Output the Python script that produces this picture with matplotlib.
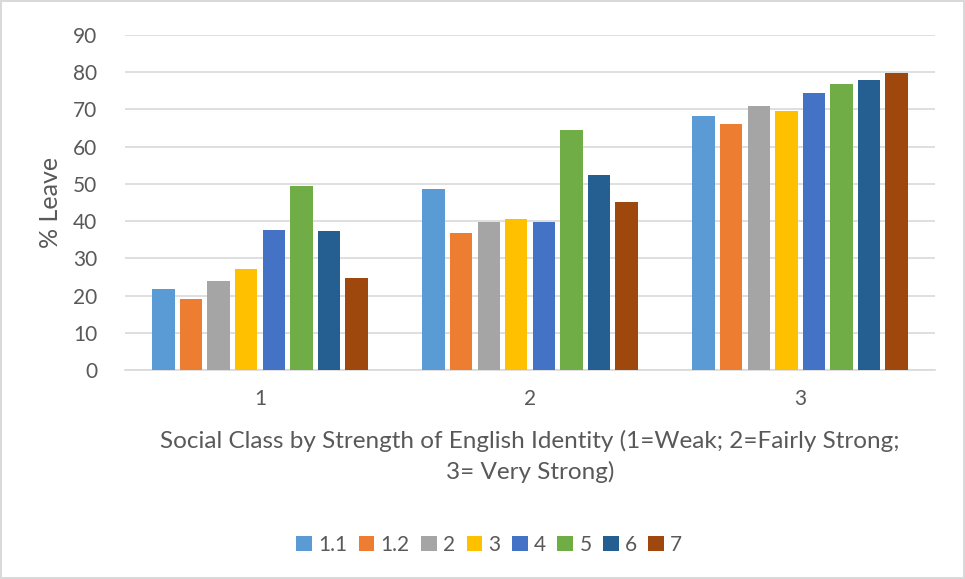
import numpy as np
import matplotlib.pyplot as plt

# Data
categories = ['1', '2', '3']
series = ['1.1', '1.2', '2', '3', '4', '5', '6', '7']
values = {
    '1.1': [21.7, 48.7, 68.2],
    '1.2': [19.0, 36.8, 66.1],
    '2':   [23.9, 39.8, 70.8],
    '3':   [27.2, 40.5, 69.7],
    '4':   [37.7, 39.8, 74.3],
    '5':   [49.3, 64.5, 76.8],
    '6':   [37.3, 52.4, 77.8],
    '7':   [24.6, 45.1, 79.7],
}
colors = ['#5B9BD5', '#ED7D31', '#A5A5A5', '#FFC000',
          '#4472C4', '#70AD47', '#255E91', '#9E480E']

plt.rcParams['font.family'] = ['Lato', 'DejaVu Sans']

fig = plt.figure(figsize=(9.65, 5.79), dpi=100)
fig.patch.set_edgecolor('#d9d9d9')
fig.patch.set_linewidth(1.5)
ax = fig.add_axes([0.1295, 0.361, 0.8395, 0.5786])

x = np.arange(len(categories))
slot = 0.102
width = 0.083
for i, s in enumerate(series):
    off = (i - (len(series) - 1) / 2) * slot
    ax.bar(x + off, values[s], width, color=colors[i], label=s, zorder=3)

ax.set_xlim(-0.5, 2.5)
ax.set_ylim(0, 90)
ax.set_yticks(np.arange(0, 91, 10))
ax.set_xticks(x)
ax.set_xticklabels(categories)
ax.grid(axis='y', color='#d9d9d9', linewidth=1.2, zorder=0)
for sp in ['top', 'right', 'left']:
    ax.spines[sp].set_visible(False)
ax.spines['bottom'].set_color('#d9d9d9')
ax.spines['bottom'].set_linewidth(1.2)
ax.tick_params(axis='both', length=0, colors='#595959', labelsize=15)
ax.tick_params(axis='y', pad=20)
ax.tick_params(axis='x', pad=14)

ax.set_ylabel('% Leave', fontsize=18, color='#595959', labelpad=8)
ax.set_xlabel('Social Class by Strength of English Identity (1=Weak; 2=Fairly Strong;\n3= Very Strong)',
              fontsize=17.5, color='#595959', labelpad=15, linespacing=1.5)

fig.legend(*ax.get_legend_handles_labels(), loc='center', bbox_to_anchor=(0.507, 0.059),
           ncol=8, frameon=False, fontsize=15, handlelength=0.75, handleheight=0.75,
           handletextpad=0.3, columnspacing=0.55, labelcolor='#595959')

fig.savefig('out.png', dpi=100)
